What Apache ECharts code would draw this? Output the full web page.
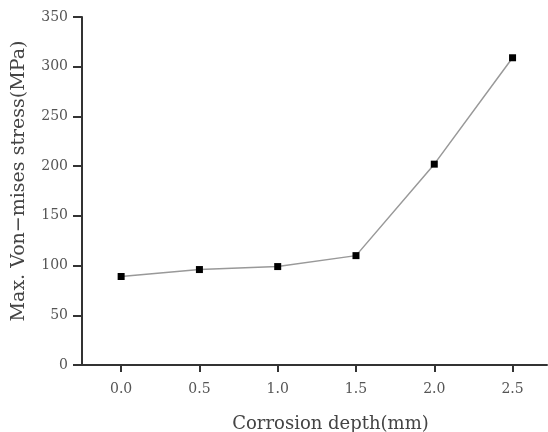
<!DOCTYPE html>
<html>
<head>
<meta charset="utf-8">
<script src="https://cdn.jsdelivr.net/npm/echarts@6/dist/echarts.min.js"></script>
<style>
  html, body { margin: 0; padding: 0; background: #fff; }
  #chart { width: 548px; height: 432px; }
</style>
</head>
<body>
<div id="chart"></div>
<script>
// 腐蚀深度 (mm) 与最大应力 (MPa)
const depths = [0.0, 0.5, 1.0, 1.5, 2.0, 2.5]
const stress = [89, 96, 99, 110, 202, 309]
const xTicks = [0.0, 0.5, 1.0, 1.5, 2.0, 2.5]

const chart = echarts.init(document.getElementById('chart'))
const font = 'DejaVu Serif'

const option = {
  animation: false,
  grid: { left: 82, right: 1, top: 17, bottom: 67, containLabel: false, outerBoundsMode: 'none' },
  xAxis: {
    type: 'value',
    min: -0.25,
    max: 2.72,
    name: 'Corrosion depth(mm)',
    nameLocation: 'middle',
    nameGap: 50,
    nameTextStyle: { fontFamily: font, fontSize: 18, color: '#444', padding: [0, 0, 0, 32] },
    axisLine: { onZero: false, lineStyle: { color: '#333', width: 2 } },
    axisTick: { show: true, length: 7, lineStyle: { color: '#333', width: 2 }, customValues: xTicks },
    axisLabel: {
      fontFamily: font, fontSize: 14, color: '#555', margin: 17,
      customValues: xTicks,
      formatter: function (v) { return v.toFixed(1) }
    },
    splitLine: { show: false }
  },
  yAxis: {
    type: 'value',
    min: 0,
    max: 350,
    interval: 50,
    name: 'Max. Von\u2212mises stress(MPa)',
    nameLocation: 'middle',
    nameGap: 53,
    nameTextStyle: { fontFamily: font, fontSize: 19, color: '#444', padding: [0, 0, 0, 20] },
    axisLine: { show: true, onZero: false, lineStyle: { color: '#333', width: 2 } },
    axisTick: { show: true, length: 9, lineStyle: { color: '#333', width: 2 } },
    axisLabel: { fontFamily: font, fontSize: 14, color: '#555', margin: 14 },
    splitLine: { show: false }
  },
  series: [
    {
      type: 'line',
      data: depths.map((d, i) => [d, stress[i]]),
      symbol: 'rect',
      symbolSize: 7,
      itemStyle: { color: '#000' },
      lineStyle: { color: '#999', width: 1.5 }
    }
  ]
}

chart.setOption(option)
</script>
</body>
</html>
